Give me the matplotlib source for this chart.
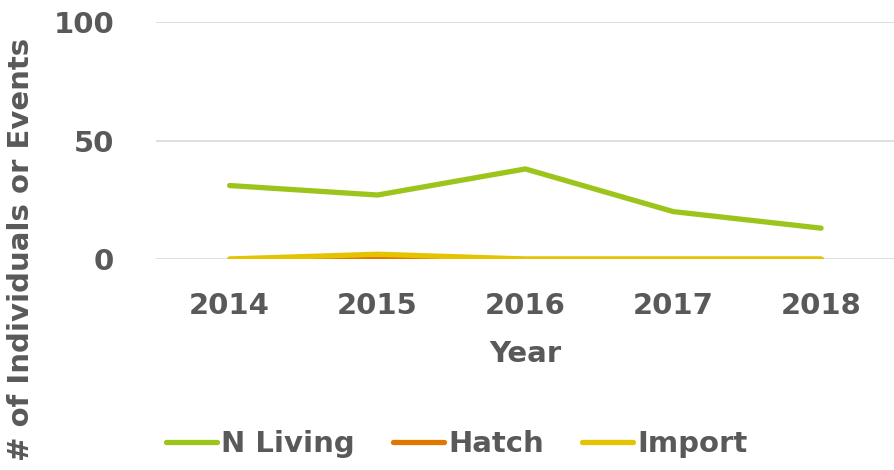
import matplotlib.pyplot as plt

years = ['2014', '2015', '2016', '2017', '2018']
n_living = [31, 27, 38, 20, 13]
hatch = [0, 0, 0, 0, 0]
imports = [0, 2, 0, 0, 0]

gray = '#595959'
plt.rcParams['font.family'] = ['DejaVu Sans']
plt.rcParams['font.weight'] = 'bold'

fig = plt.figure(figsize=(8.95, 4.7), dpi=100)
ax = fig.add_axes([0.174, 0.449, 0.826, 0.504])

x = range(len(years))
ax.plot(x, n_living, color='#9DC41A', lw=3.8, label='N Living', solid_capstyle='round')
ax.plot(x, hatch, color='#E07800', lw=3.8, label='Hatch', solid_capstyle='round')
ax.plot(x, imports, color='#E6C300', lw=3.8, label='Import', solid_capstyle='round')

ax.set_xlim(-0.5, len(years) - 0.5)
ax.set_ylim(0, 100)
ax.set_yticks([0, 50, 100])
ax.set_xticks(list(x))
ax.set_xticklabels(years)
ax.grid(axis='y', color='#d9d9d9', lw=1.2)
ax.set_axisbelow(True)
for s in ax.spines.values():
    s.set_visible(False)
ax.tick_params(length=0, labelsize=21, labelcolor=gray)
ax.tick_params(axis='x', pad=24)
ax.tick_params(axis='y', pad=30)

ax.set_xlabel('Year', fontsize=21, color=gray, fontweight='bold', labelpad=14)
fig.text(0.024, 0.47, '# of Individuals or Events', rotation=90, fontsize=21,
         color=gray, fontweight='bold', ha='center', va='center')

fig.legend(loc='center', bbox_to_anchor=(0.51, 0.055), ncol=3, frameon=False,
           fontsize=21, labelcolor=gray, handlelength=1.75, handletextpad=0.15,
           columnspacing=1.3)

fig.savefig('out.png', dpi=100)
